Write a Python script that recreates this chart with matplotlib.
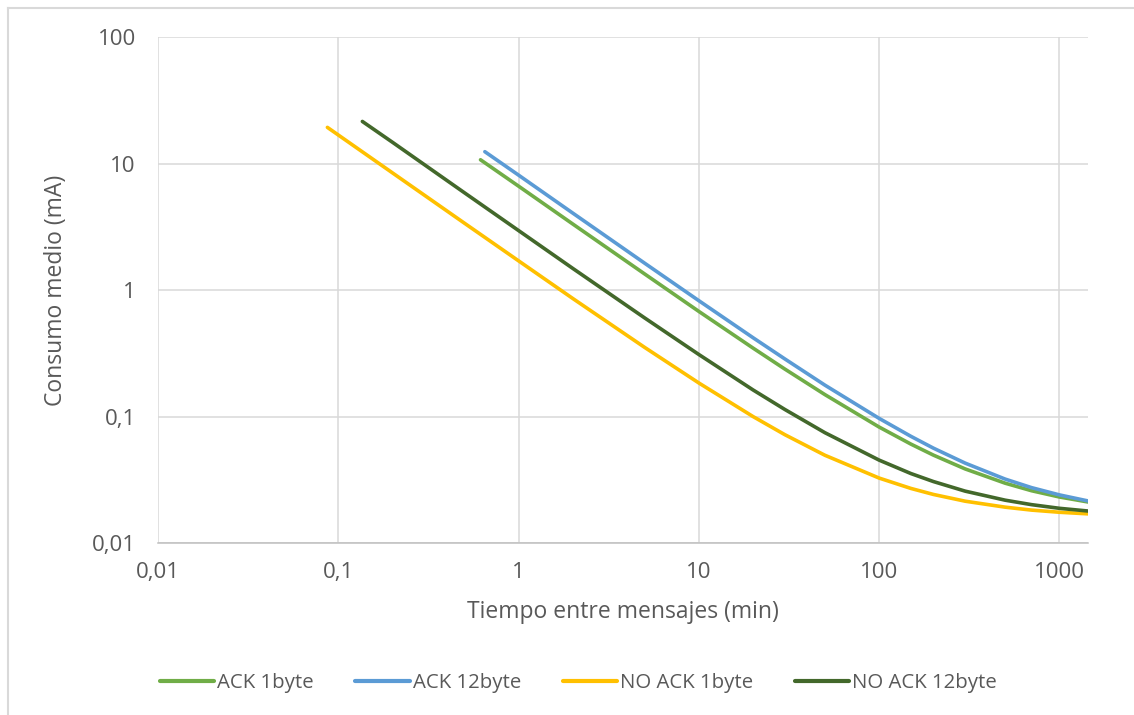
import matplotlib.pyplot as plt
from matplotlib.lines import Line2D

# valores (tiempo en min, consumo en mA)
x_ack1 = [0.615, 1, 2, 5, 10, 20, 30, 50, 100, 150, 200, 300, 500, 700, 1000, 1440]
y_ack1 = [10.7, 6.62, 3.32, 1.34, 0.677, 0.347, 0.237, 0.149, 0.0825, 0.0605,
          0.0495, 0.0385, 0.0297, 0.0259, 0.0231, 0.0211]

x_ack12 = [0.65, 1, 2, 5, 10, 20, 30, 50, 100, 150, 200, 300, 500, 700, 1000, 1440]
y_ack12 = [12.4, 8.09, 4.05, 1.63, 0.823, 0.419, 0.285, 0.177, 0.0966, 0.0697,
           0.0562, 0.0428, 0.0320, 0.0274, 0.0240, 0.0215]

x_noack1 = [0.087, 0.1, 0.2, 0.5, 1, 2, 5, 10, 20, 30, 50, 100, 150, 200, 300,
            500, 700, 1000, 1440]
y_noack1 = [19.3, 16.8, 8.42, 3.38, 1.70, 0.856, 0.352, 0.184, 0.0998, 0.0718,
            0.0494, 0.0326, 0.0270, 0.0242, 0.0214, 0.0192, 0.0182, 0.0175, 0.0170]

x_noack12 = [0.136, 0.2, 0.5, 1, 2, 5, 10, 20, 30, 50, 100, 150, 200, 300,
             500, 700, 1000, 1440]
y_noack12 = [21.5, 14.7, 5.88, 2.95, 1.48, 0.602, 0.309, 0.162, 0.1136, 0.0745,
             0.0452, 0.0354, 0.0306, 0.0257, 0.0218, 0.0201, 0.0188, 0.0179]

x_ticks = [0.01, 0.1, 1, 10, 100, 1000]
x_labels = ['0,01', '0,1', '1', '10', '100', '1000']
y_ticks = [0.01, 0.1, 1, 10, 100]
y_labels = ['0,01', '0,1', '1', '10', '100']

series = [
    ('ACK 1byte', x_ack1, y_ack1, '#70ad47'),
    ('ACK 12byte', x_ack12, y_ack12, '#5b9bd5'),
    ('NO ACK 1byte', x_noack1, y_noack1, '#ffc000'),
    ('NO ACK 12byte', x_noack12, y_noack12, '#43682b'),
]

plt.rcParams['font.family'] = ['Open Sans', 'DejaVu Sans']
txt = '#595959'
grid = '#d9d9d9'

fig = plt.figure(figsize=(11.34, 7.15), dpi=100)
ax = fig.add_axes([158 / 1134, 1 - 543 / 715, 930 / 1134, 506 / 715])

for name, xs, ys, col in series:
    ax.plot(xs, ys, color=col, lw=2.6, solid_capstyle='round', label=name)

ax.set_xscale('log')
ax.set_yscale('log')
ax.set_xlim(0.01, 1440)
ax.set_ylim(0.01, 100)
ax.set_xticks(x_ticks)
ax.set_xticklabels(x_labels)
ax.set_yticks(y_ticks)
ax.set_yticklabels(y_labels)
ax.minorticks_off()
ax.tick_params(length=0, labelsize=16, colors=txt)
ax.tick_params(axis='x', pad=14)
ax.tick_params(axis='y', pad=16)
ax.grid(True, color=grid, lw=1.1)
ax.set_axisbelow(True)
for s in ['top', 'right', 'left']:
    ax.spines[s].set_visible(False)
ax.spines['bottom'].set_color('#bfbfbf')
ax.spines['bottom'].set_linewidth(1.1)

ax.set_xlabel('Tiempo entre mensajes (min)', fontsize=16.5, color=txt, labelpad=12)
ax.set_ylabel('Consumo medio (mA)', fontsize=16.5, color=txt, labelpad=17)

handles = [Line2D([], [], color=c, lw=3, solid_capstyle='round') for _, _, _, c in series]
fig.legend(handles, [s[0] for s in series], loc='center', bbox_to_anchor=(0.51, 1 - 683 / 715),
           ncol=4, frameon=False, fontsize=14.7, handlelength=2.65, handletextpad=0.15,
           columnspacing=2.05, labelcolor=txt)

# marco exterior (solo arriba e izquierda visibles)
fig.add_artist(Line2D([8 / 1134, 8 / 1134], [0, 1 - 8 / 715], color=grid, lw=1.5))
fig.add_artist(Line2D([8 / 1134, 1133 / 1134], [1 - 8 / 715, 1 - 8 / 715], color=grid, lw=1.5))

fig.savefig('out.png', dpi=100)
